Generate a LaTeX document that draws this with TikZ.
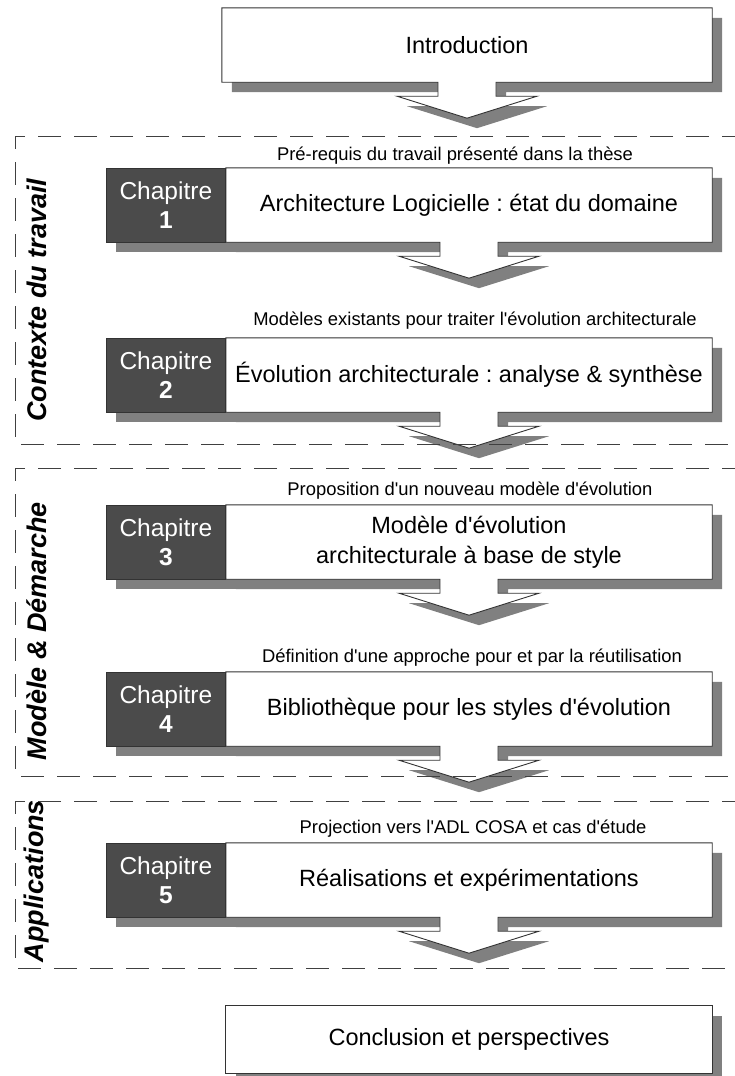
\documentclass[tikz,border=0pt]{standalone}
\usepackage{fontspec}
\setmainfont{Liberation Sans}[Ligatures=TeXOff]
\usetikzlibrary{calc}
\pgfdeclarelayer{background}
\pgfsetlayers{background,main}
\frenchspacing
\definecolor{shadowgray}{HTML}{808080}
\definecolor{chapdark}{HTML}{4B4B4B}
\definecolor{edgegray}{HTML}{333333}
\definecolor{dashgray}{HTML}{404040}
\newcommand\bigtxt{\fontsize{23.5}{30}\selectfont}
\newcommand\chaptxt{\fontsize{24.5}{29}\selectfont}
\newcommand\smalltxt{\fontsize{18.4}{22}\selectfont}
\newcommand\sidetxt{\fontsize{27}{30}\selectfont\bfseries\itshape}
\newcommand\callout[1]{%
  \fill[shadowfill] (#1.north west) -- (#1.north east) -- (#1.south east) -- ($(#1.south)+(29,0)$) -- ++(0,14) -- ++(41,0) -- ($(#1.south)+(0,36)$) -- ($(#1.south)+(-70,14)$) -- ++(41,0) -- ++(0,-14) -- (#1.south west) -- cycle;
  \filldraw[outline] (#1.north west) -- (#1.north east) -- (#1.south east) -- ($(#1.south)+(29,0)$) -- ++(0,14) -- ++(41,0) -- ($(#1.south)+(0,36)$) -- ($(#1.south)+(-70,14)$) -- ++(41,0) -- ++(0,-14) -- (#1.south west) -- cycle;
}
\tikzset{
  shadowfill/.style={fill=shadowgray, draw=none, transform canvas={shift={(10,10)}}},
  outline/.style={draw=edgegray, line width=0.9pt, fill=white},
  whitepart/.style={minimum width=486, minimum height=74, inner sep=0pt, align=center, font=\bigtxt},
  darkpart/.style={draw=edgegray, line width=0.9pt, fill=chapdark, text=white, minimum width=119, minimum height=74, inner sep=0pt, align=center, font=\chaptxt},
  labeltext/.style={inner sep=0pt, font=\smalltxt},
  sidelabel/.style={inner sep=0pt, rotate=90, font=\sidetxt},
  zone/.style={draw=dashgray, line width=0.9pt, dash pattern=on 23pt off 13pt},
}
\begin{document}
\begin{tikzpicture}[x=1pt,y=-1pt]
\useasboundingbox (0,0) rectangle (734,1076);

% Introduction
\node[whitepart, minimum width=490] (intro) at (467,45) {Introduction};

% Chapter 1
\node[labeltext] (l1) at (455,156) {Pré-requis du travail présenté dans la thèse};
\node[whitepart] (t1) at (469,205) {Architecture Logicielle : état du domaine};
\node[darkpart, anchor=east] (c1) at (t1.west) {Chapitre\\\textbf{1}};

% Chapter 2
\node[labeltext] (l2) at (475,321) {Modèles existants pour traiter l'évolution architecturale};
\node[whitepart] (t2) at (469,375) {Évolution architecturale : analyse \& synthèse};
\node[darkpart, anchor=east] (c2) at (t2.west) {Chapitre\\\textbf{2}};

% Chapter 3
\node[labeltext] (l3) at (470,491) {Proposition d'un nouveau modèle d'évolution};
\node[whitepart] (t3) at (469,542) {Modèle d'évolution\\architecturale à base de style};
\node[darkpart, anchor=east] (c3) at (t3.west) {Chapitre\\\textbf{3}};

% Chapter 4
\node[labeltext] (l4) at (472,658) {Définition d'une approche pour et par la réutilisation};
\node[whitepart] (t4) at (469,709) {Bibliothèque pour les styles d'évolution};
\node[darkpart, anchor=east] (c4) at (t4.west) {Chapitre\\\textbf{4}};

% Chapter 5
\node[labeltext] (l5) at (473,829) {Projection vers l'ADL COSA et cas d'étude};
\node[whitepart] (t5) at (469,880) {Réalisations et expérimentations};
\node[darkpart, anchor=east] (c5) at (t5.west) {Chapitre\\\textbf{5}};

% Conclusion
\node[whitepart, minimum height=67] (concl) at (469,1039.5) {Conclusion et perspectives};

\begin{pgfonlayer}{background}
  \callout{intro}
  \foreach \i in {1,...,5}{
    \fill[shadowfill] (c\i.north west) rectangle (c\i.south east);
    \callout{t\i}
  }
  \fill[shadowfill] (concl.north west) rectangle (concl.south east);
  \filldraw[outline] (concl.north west) rectangle (concl.south east);
\end{pgfonlayer}

% Zones
\draw[zone] (745,136) -- (15,136) -- (15,444) -- (745,444);
\draw[zone] (745,468) -- (15,468) -- (15,776) -- (745,776);
\draw[zone] (745,801) -- (15,801) -- (15,968) -- (745,968);

\node[sidelabel] (s1) at (37,300) {Contexte du travail};
\node[sidelabel] (s2) at (37,631) {Modèle \& Démarche};
\node[sidelabel] (s3) at (37,881) {Applications};
\end{tikzpicture}
\end{document}
